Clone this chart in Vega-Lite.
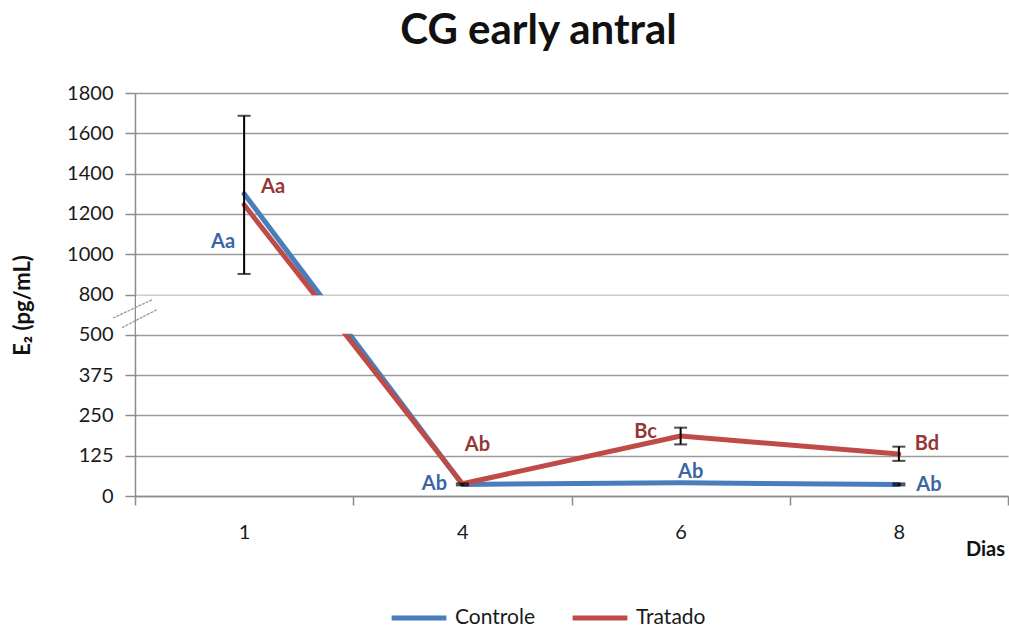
{
  "$schema": "https://vega.github.io/schema/vega-lite/v6.json",
  "width": 873,
  "height": 403,
  "autosize": {"type": "none"},
  "padding": {"left": 135, "top": 93, "right": 1, "bottom": 132},
  "background": "white",
  "config": {
    "view": {"stroke": null},
    "font": "Lato",
    "axis": {"labelFont": "Lato", "titleFont": "Lato"}
  },
  "title": {
    "text": "CG early antral",
    "font": "Lato",
    "fontSize": 42,
    "fontWeight": "bold",
    "color": "#111111",
    "anchor": "middle",
    "frame": "group",
    "dx": -33,
    "offset": 30
  },
  "datasets": {
    "medias": [
      {"Dia": 1, "Serie": "Controle", "E2": 1300, "rotulo": "Aa"},
      {"Dia": 4, "Serie": "Controle", "E2": 36, "rotulo": "Ab"},
      {"Dia": 6, "Serie": "Controle", "E2": 41, "rotulo": "Ab"},
      {"Dia": 8, "Serie": "Controle", "E2": 36, "rotulo": "Ab"},
      {"Dia": 1, "Serie": "Tratado", "E2": 1245, "rotulo": "Aa"},
      {"Dia": 4, "Serie": "Tratado", "E2": 38, "rotulo": "Ab"},
      {"Dia": 6, "Serie": "Tratado", "E2": 186, "rotulo": "Bc"},
      {"Dia": 8, "Serie": "Tratado", "E2": 130, "rotulo": "Bd"}
    ],
    "erros": [
      {"Dia": 1, "Serie": "Controle", "lo": 902, "hi": 1687},
      {"Dia": 4, "Serie": "Controle", "lo": 33, "hi": 39},
      {"Dia": 6, "Serie": "Tratado", "lo": 160, "hi": 212},
      {"Dia": 8, "Serie": "Tratado", "lo": 109, "hi": 153},
      {"Dia": 8, "Serie": "Controle", "lo": 33, "hi": 39}
    ]
  },
  "encoding": {
    "x": {
      "field": "Dia",
      "type": "ordinal",
      "bandPosition": 0.5,
      "scale": {"type": "band", "domain": [1, 4, 6, 8], "paddingInner": 0, "paddingOuter": 0},
      "axis": {
        "title": "Dias",
        "titleFontSize": 20,
        "titleFontWeight": "bold",
        "titleColor": "#111111",
        "titleX": 850,
        "titleY": 43,
        "titleAlign": "center",
        "titleBaseline": "top",
        "labelAngle": 0,
        "labelFontSize": 20,
        "labelColor": "#1a1a1a",
        "labelPadding": 17,
        "tickBand": "extent",
        "tickSize": 9,
        "tickWidth": 1.5,
        "tickColor": "#8c8c8c",
        "domainColor": "#8c8c8c",
        "domainWidth": 1.5,
        "grid": false
      }
    }
  },
  "layer": [
    {
      "data": {"name": "medias"},
      "mark": {"type": "line", "strokeWidth": 5, "strokeCap": "round", "strokeJoin": "round"},
      "encoding": {
        "y": {
          "field": "E2",
          "type": "quantitative",
          "scale": {"domain": [0, 500, 800, 1800], "range": [403, 241.8, 201.5, 0], "nice": false, "zero": false},
          "axis": {
            "title": "E₂ (pg/mL)",
            "titleFontSize": 22,
            "titleFontWeight": "bold",
            "titleColor": "#111111",
            "titleX": -113,
            "titleY": 212,
            "titleAngle": -90,
            "titleAlign": "center",
            "titleBaseline": "middle",
            "values": [0, 125, 250, 375, 500, 800, 1000, 1200, 1400, 1600, 1800],
            "format": "d",
            "labelFontSize": 20,
            "labelColor": "#1a1a1a",
            "labelPadding": 12,
            "tickSize": 10,
            "tickWidth": 1.5,
            "tickColor": "#8c8c8c",
            "domainColor": "#8c8c8c",
            "domainWidth": 1.5,
            "grid": true,
            "gridColor": "#9a9a9a",
            "gridWidth": 1.5
          }
        },
        "color": {
          "field": "Serie",
          "type": "nominal",
          "scale": {"domain": ["Controle", "Tratado"], "range": ["#4a7ebb", "#be4b48"]},
          "legend": {
            "title": null,
            "orient": "none",
            "direction": "horizontal",
            "legendX": 254,
            "legendY": 495,
            "symbolType": "stroke",
            "symbolSize": 3000,
            "symbolStrokeWidth": 5,
            "labelFontSize": 21,
            "labelFont": "Lato",
            "labelColor": "#1a1a1a",
            "labelOffset": 6,
            "columnPadding": 27
          }
        }
      }
    },
    {
      "data": {"values": [{}]},
      "mark": {"type": "rect", "fill": "white"},
      "encoding": {
        "x": {"value": 1},
        "x2": {"value": 873},
        "y": {"datum": 507},
        "y2": {"datum": 793}
      }
    },
    {
      "data": {"values": [{"a": 625, "b": 764}]},
      "mark": {"type": "rule", "color": "#9a9a9a", "strokeWidth": 1.3, "strokeDash": [3, 1]},
      "encoding": {
        "x": {"value": -22},
        "x2": {"value": 18},
        "y": {"field": "a", "type": "quantitative"},
        "y2": {"field": "b"}
      }
    },
    {
      "data": {"values": [{"a": 553, "b": 688}]},
      "mark": {"type": "rule", "color": "#9a9a9a", "strokeWidth": 1.3, "strokeDash": [3, 1]},
      "encoding": {
        "x": {"value": -13},
        "x2": {"value": 22},
        "y": {"field": "a", "type": "quantitative"},
        "y2": {"field": "b"}
      }
    },
    {
      "data": {"name": "erros"},
      "mark": {"type": "rule", "color": "#000000", "strokeWidth": 2},
      "encoding": {
        "y": {"field": "lo", "type": "quantitative"},
        "y2": {"field": "hi"}
      }
    },
    {
      "data": {"name": "erros"},
      "mark": {"type": "tick", "orient": "horizontal", "color": "#000000", "size": 13, "thickness": 2},
      "encoding": {
        "y": {"field": "lo", "type": "quantitative"}
      }
    },
    {
      "data": {"name": "erros"},
      "mark": {"type": "tick", "orient": "horizontal", "color": "#000000", "size": 13, "thickness": 2},
      "encoding": {
        "y": {"field": "hi", "type": "quantitative"}
      }
    },
    {
      "data": {"name": "medias"},
      "transform": [{"filter": "datum.Serie == 'Controle' && datum.Dia == 1"}],
      "mark": {"type": "text", "fontSize": 20, "fontWeight": "bold", "color": "#3b66a3", "dx": -21, "dy": 48},
      "encoding": {"y": {"field": "E2", "type": "quantitative"}, "text": {"field": "rotulo"}}
    },
    {
      "data": {"name": "medias"},
      "transform": [{"filter": "datum.Serie == 'Controle' && datum.Dia == 4"}],
      "mark": {"type": "text", "fontSize": 20, "fontWeight": "bold", "color": "#3b66a3", "dx": -28, "dy": 0},
      "encoding": {"y": {"field": "E2", "type": "quantitative"}, "text": {"field": "rotulo"}}
    },
    {
      "data": {"name": "medias"},
      "transform": [{"filter": "datum.Serie == 'Controle' && datum.Dia == 6"}],
      "mark": {"type": "text", "fontSize": 20, "fontWeight": "bold", "color": "#3b66a3", "dx": 10, "dy": -11},
      "encoding": {"y": {"field": "E2", "type": "quantitative"}, "text": {"field": "rotulo"}}
    },
    {
      "data": {"name": "medias"},
      "transform": [{"filter": "datum.Serie == 'Controle' && datum.Dia == 8"}],
      "mark": {"type": "text", "fontSize": 20, "fontWeight": "bold", "color": "#3b66a3", "dx": 30, "dy": 1},
      "encoding": {"y": {"field": "E2", "type": "quantitative"}, "text": {"field": "rotulo"}}
    },
    {
      "data": {"name": "medias"},
      "transform": [{"filter": "datum.Serie == 'Tratado' && datum.Dia == 1"}],
      "mark": {"type": "text", "fontSize": 20, "fontWeight": "bold", "color": "#953735", "dx": 29, "dy": -18},
      "encoding": {"y": {"field": "E2", "type": "quantitative"}, "text": {"field": "rotulo"}}
    },
    {
      "data": {"name": "medias"},
      "transform": [{"filter": "datum.Serie == 'Tratado' && datum.Dia == 4"}],
      "mark": {"type": "text", "fontSize": 20, "fontWeight": "bold", "color": "#953735", "dx": 15, "dy": -39},
      "encoding": {"y": {"field": "E2", "type": "quantitative"}, "text": {"field": "rotulo"}}
    },
    {
      "data": {"name": "medias"},
      "transform": [{"filter": "datum.Serie == 'Tratado' && datum.Dia == 6"}],
      "mark": {"type": "text", "fontSize": 20, "fontWeight": "bold", "color": "#953735", "dx": -35, "dy": -4},
      "encoding": {"y": {"field": "E2", "type": "quantitative"}, "text": {"field": "rotulo"}}
    },
    {
      "data": {"name": "medias"},
      "transform": [{"filter": "datum.Serie == 'Tratado' && datum.Dia == 8"}],
      "mark": {"type": "text", "fontSize": 20, "fontWeight": "bold", "color": "#953735", "dx": 28, "dy": -10},
      "encoding": {"y": {"field": "E2", "type": "quantitative"}, "text": {"field": "rotulo"}}
    }
  ]
}
